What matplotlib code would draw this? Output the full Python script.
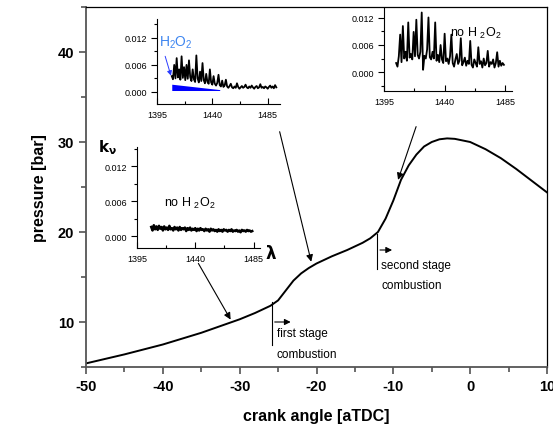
import numpy as np
import matplotlib.pyplot as plt
from matplotlib.ticker import MultipleLocator

plt.rcParams['font.family'] = ['Liberation Sans', 'DejaVu Sans']
plt.rcParams['mathtext.default'] = 'regular'
plt.rcParams['axes.unicode_minus'] = False

# ---- main curve: cylinder pressure vs crank angle ----
crank = [-50, -45, -40, -35, -30, -28, -26, -25, -24, -23, -22, -21, -20, -18, -16,
         -14, -13, -12, -11, -10, -9, -8, -7, -6, -5, -4, -3, -2, 0, 2, 4, 6, 8, 10]
pressure = [5.4, 6.4, 7.5, 8.8, 10.3, 11.0, 11.8, 12.4, 13.5, 14.6, 15.4, 16.0, 16.5,
            17.3, 18.0, 18.8, 19.3, 20.0, 21.5, 23.5, 25.8, 27.4, 28.6, 29.5, 30.0,
            30.3, 30.4, 30.35, 30.0, 29.2, 28.2, 27.0, 25.7, 24.4]

# ---- inset spectra (absorption k_nu vs lambda) ----
lam_h2o2 = np.arange(1407, 1493)
k_h2o2 = [0.0035, 0.0028, 0.0060, 0.0030, 0.0075, 0.0032, 0.0050, 0.0027, 0.0079, 0.0031,
          0.0055, 0.0026, 0.0060, 0.0029, 0.0070, 0.0033, 0.0024, 0.0050, 0.0028, 0.0022,
          0.0081, 0.0030, 0.0021, 0.0045, 0.0024, 0.0064, 0.0026, 0.0019, 0.0040, 0.0022,
          0.0018, 0.0050, 0.0021, 0.0016, 0.0035, 0.0018, 0.0014, 0.0020, 0.0038, 0.0015,
          0.0012, 0.0025, 0.0011, 0.0014, 0.0027, 0.0012, 0.0009, 0.0013, 0.0018, 0.0010,
          0.0008, 0.0012, 0.0009, 0.0019, 0.0011, 0.0007, 0.0010, 0.0013, 0.0009, 0.0011,
          0.0016, 0.0010, 0.0008, 0.0012, 0.0009, 0.0014, 0.0010, 0.0007, 0.0011, 0.0013,
          0.0008, 0.0010, 0.0017, 0.0009, 0.0011, 0.0008, 0.0012, 0.0010, 0.0007, 0.0011,
          0.0014, 0.0009, 0.0012, 0.0008, 0.0015, 0.0010]
# blue H2O2 contribution wedge
lam_wedge = [1407, 1446]
wedge_top = [0.0017, 0.0005]
wedge_bot = [0.0003, 0.0003]

lam_second = np.arange(1404, 1485)
k_second = [0.0020, 0.0012, 0.0035, 0.0083, 0.0022, 0.0102, 0.0030, 0.0045, 0.0025, 0.0110,
            0.0032, 0.0040, 0.0028, 0.0089, 0.0035, 0.0116, 0.0038, 0.0030, 0.0045, 0.0132,
            0.0005, 0.0036, 0.0030, 0.0050, 0.0121, 0.0033, 0.0028, 0.0045, 0.0030, 0.0110,
            0.0025, 0.0038, 0.0022, 0.0060, 0.0028, 0.0020, 0.0085, 0.0024, 0.0030, 0.0018,
            0.0035, 0.0083, 0.0020, 0.0012, 0.0028, 0.0040, 0.0018, 0.0025, 0.0075, 0.0015,
            0.0022, 0.0032, 0.0014, 0.0025, 0.0018, 0.0069, 0.0016, 0.0010, 0.0028, 0.0020,
            0.0012, 0.0055, 0.0018, 0.0024, 0.0010, 0.0030, 0.0015, 0.0020, 0.0047, 0.0012,
            0.0022, 0.0018, 0.0028, 0.0010, 0.0020, 0.0044, 0.0012, 0.0025, 0.0014, 0.0020,
            0.0016]

lam_first = np.arange(1406, 1485)
k_first = [0.0016, 0.0010, 0.0019, 0.0012, 0.0017, 0.0011, 0.0018, 0.0013, 0.0016, 0.0010,
           0.0017, 0.0012, 0.0015, 0.0011, 0.0018, 0.0012, 0.0014, 0.0010, 0.0016, 0.0012,
           0.0015, 0.0010, 0.0016, 0.0011, 0.0014, 0.0012, 0.0015, 0.0009, 0.0014, 0.0011,
           0.0015, 0.0010, 0.0013, 0.0011, 0.0014, 0.0009, 0.0013, 0.0010, 0.0014, 0.0011,
           0.0012, 0.0009, 0.0013, 0.0010, 0.0012, 0.0008, 0.0013, 0.0010, 0.0012, 0.0009,
           0.0011, 0.0008, 0.0012, 0.0009, 0.0011, 0.0008, 0.0012, 0.0010, 0.0011, 0.0008,
           0.0011, 0.0009, 0.0012, 0.0008, 0.0010, 0.0009, 0.0011, 0.0008, 0.0010, 0.0007,
           0.0011, 0.0009, 0.0010, 0.0008, 0.0011, 0.0009, 0.0010, 0.0008, 0.0009]

W, H = 553, 431
fig = plt.figure(figsize=(W / 100, H / 100), dpi=100)


def box(x0, y0, x1, y1):
    # pixel box (top-left origin) -> figure fraction
    return [x0 / W, (H - y1) / H, (x1 - x0) / W, (y1 - y0) / H]


ax = fig.add_axes(box(86, 8, 547, 368))
ax.plot(crank, pressure, color='black', lw=1.4)
ax.set_xlim(-50, 10)
ax.set_ylim(5, 45)
ax.xaxis.set_major_locator(MultipleLocator(10))
ax.xaxis.set_minor_locator(MultipleLocator(5))
ax.yaxis.set_major_locator(MultipleLocator(10))
ax.yaxis.set_minor_locator(MultipleLocator(5))
ax.tick_params(which='both', direction='out', top=False, right=False, colors='#444444',
               labelcolor='black')
ax.tick_params(which='major', length=5, width=1.1, labelsize=10.5)
ax.tick_params(which='minor', length=3.5, width=1.1)
for lbl in ax.get_xticklabels() + ax.get_yticklabels():
    lbl.set_fontweight('bold')
for s in ['left', 'bottom']:
    ax.spines[s].set_color('#555555')
    ax.spines[s].set_linewidth(1.3)
for s in ['top', 'right']:
    ax.spines[s].set_color('black')
    ax.spines[s].set_linewidth(0.9)
ax.set_xlabel('crank angle [aTDC]', fontsize=11.5, fontweight='bold', labelpad=11)
ax.set_ylabel('pressure [bar]', fontsize=11.5, fontweight='bold', labelpad=8)

# combustion stage markers
ax.plot([-25.8, -25.8], [12.2, 7.5], color='black', lw=0.8)
ax.annotate('', xy=(-23.0, 10.0), xytext=(-25.8, 10.0),
            arrowprops=dict(arrowstyle='-|>', color='black', lw=0.8, mutation_scale=9))
ax.text(-25.2, 8.8, 'first stage', fontsize=8.5, va='center', ha='left')
ax.text(-25.2, 6.4, 'combustion', fontsize=8.5, va='center', ha='left')

ax.plot([-12.1, -12.1], [19.8, 15.9], color='black', lw=0.8)
ax.annotate('', xy=(-9.8, 18.0), xytext=(-12.1, 18.0),
            arrowprops=dict(arrowstyle='-|>', color='black', lw=0.8, mutation_scale=9))
ax.text(-11.6, 16.3, 'second stage', fontsize=8.5, va='center', ha='left')
ax.text(-11.6, 14.1, 'combustion', fontsize=8.5, va='center', ha='left')

# arrows from insets to the curve
arrow_kw = dict(arrowstyle='-|>', color='black', lw=0.8, mutation_scale=10)
ax.annotate('', xy=(-31.0, 10.0), xycoords='data', xytext=(197, H - 262),
            textcoords='figure pixels', arrowprops=arrow_kw)
ax.annotate('', xy=(-20.6, 16.4), xycoords='data', xytext=(279, H - 130),
            textcoords='figure pixels', arrowprops=arrow_kw)
ax.annotate('', xy=(-9.5, 25.5), xycoords='data', xytext=(417, H - 125),
            textcoords='figure pixels', arrowprops=arrow_kw)


def style_inset(a, xmax, ylo, yhi):
    a.set_xlim(1395, xmax)
    a.set_ylim(ylo, yhi)
    a.set_xticks([1395, 1440, 1485])
    a.xaxis.set_minor_locator(MultipleLocator(22.5))
    a.set_yticks([0.000, 0.006, 0.012])
    a.set_yticklabels(['0.000', '0.006', '0.012'])
    a.yaxis.set_minor_locator(MultipleLocator(0.003))
    a.set_xticklabels(['1395', '1440', '1485'])
    a.tick_params(axis='x', which='both', direction='in', labelsize=6.5, pad=4)
    a.tick_params(axis='y', which='both', direction='out', labelsize=6.5, pad=3)
    a.tick_params(which='major', length=4, width=0.8)
    a.tick_params(which='minor', length=2.5, width=0.8)
    a.spines['top'].set_visible(False)
    a.spines['right'].set_visible(False)
    for s in ['left', 'bottom']:
        a.spines[s].set_linewidth(0.8)
    a.patch.set_alpha(0)


# inset: with H2O2
ax1 = fig.add_axes(box(157, 20, 280, 105))
ax1.plot(lam_h2o2, k_h2o2, color='black', lw=1.3)
ax1.fill_between(lam_wedge, wedge_bot, wedge_top, color='#0000ff', lw=0)
style_inset(ax1, 1495, -0.0027, 0.0162)
ax1.text(1397, 0.0112, 'H$_2$O$_2$', color='#3d85f0', fontsize=10, va='center')
ax1.annotate('', xy=(1407, 0.0030), xytext=(1401, 0.0085),
             arrowprops=dict(arrowstyle='-|>', color='#2a3cff', lw=0.7, mutation_scale=7))

# inset: second stage, no H2O2
ax2 = fig.add_axes(box(384, 9, 512, 92))
ax2.plot(lam_second, k_second, color='black', lw=1.3)
style_inset(ax2, 1490, -0.0042, 0.0142)
ax2.text(1444, 0.0088, 'no H $_2$O$_2$', fontsize=9, va='center')

# inset: first stage, no H2O2
ax3 = fig.add_axes(box(137, 148, 260, 249))
ax3.plot(lam_first, k_first, color='black', lw=1.8)
style_inset(ax3, 1490, -0.002, 0.0153)
ax3.text(1416, 0.0058, 'no H $_2$O$_2$', fontsize=9, va='center')

fig.text(98 / W, 1 - 152 / H, r'$\mathbf{k_{\nu}}$', fontsize=11, fontweight='bold')
fig.text(265 / W, 1 - 253 / H, r'$\mathbf{\lambda}$', fontsize=12, fontweight='bold',
         va='center')

fig.savefig('out.png', dpi=100)
